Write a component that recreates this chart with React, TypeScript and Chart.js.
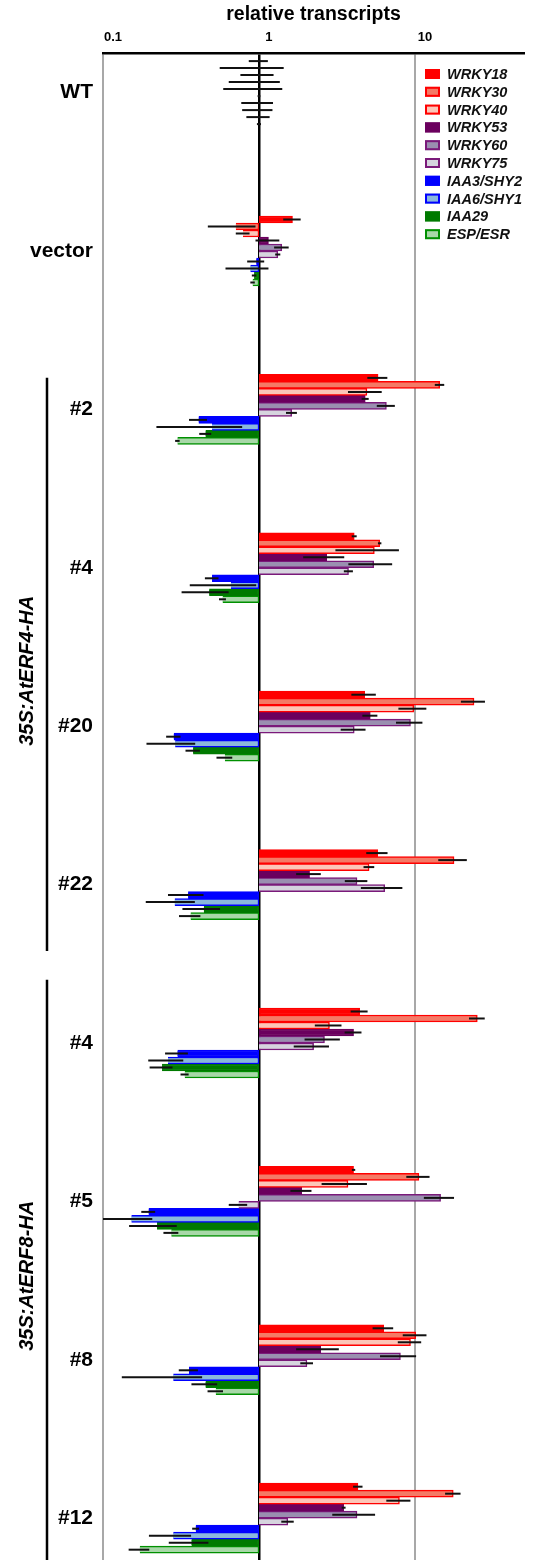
import { useEffect, useRef } from 'react';
import { Chart, registerables } from 'chart.js';

Chart.register(...registerables);

// ---------- data ----------
const groupLabels = ['WT', 'vector', '#2', '#4', '#20', '#22', '#4', '#5', '#8', '#12'];
const groupPositions = [0, 1, 2, 3, 4, 5, 6, 7, 8, 9];
const constructLabels = ['35S:AtERF4-HA', '35S:AtERF8-HA'];
const xTickValues = [0.1, 1, 10];

const geneNames = ['WRKY18', 'WRKY30', 'WRKY40', 'WRKY53', 'WRKY60', 'WRKY75', 'IAA3/SHY2', 'IAA6/SHY1', 'IAA29', 'ESP/ESR'];

const wrky18 = [1, 1.64, 5.8, 4.08, 4.76, 5.77, 4.42, 4.04, 6.3, 4.31];
const wrky30 = [1, 0.71, 14.4, 5.94, 23.9, 17.8, 25.1, 10.6, 10.1, 17.6];
const wrky40 = [1, 0.79, 4.92, 5.49, 9.83, 5.08, 2.83, 3.72, 9.36, 7.95];
const wrky53 = [1, 1.15, 4.8, 2.72, 5.17, 2.11, 4.04, 1.88, 2.49, 3.49];
const wrky60 = [1, 1.4, 6.56, 5.44, 9.36, 4.25, 2.63, 14.6, 8.07, 4.25];
const wrky75 = [1, 1.32, 1.62, 3.75, 4.08, 6.4, 2.24, 0.74, 2.03, 1.53];
const iaa3 = [1, 0.96, 0.41, 0.5, 0.284, 0.351, 0.3, 0.196, 0.356, 0.393];
const iaa6 = [1, 0.88, 0.5, 0.66, 0.29, 0.288, 0.261, 0.152, 0.282, 0.282];
const iaa29 = [1, 0.93, 0.454, 0.479, 0.378, 0.443, 0.239, 0.222, 0.454, 0.369];
const espEsr = [1, 0.91, 0.3, 0.584, 0.604, 0.364, 0.334, 0.274, 0.528, 0.172];

const wrky18Err = [0.14, 0.21, 0.85, 0.15, 0.85, 0.9, 0.55, 0.1, 0.95, 0.3];
const wrky30Err = [0.44, 0.24, 1.0, 0.15, 4.2, 3.7, 2.9, 1.8, 1.75, 2.0];
const wrky40Err = [0.24, 0.08, 1.2, 2.4, 2.0, 0.4, 0.55, 1.2, 1.6, 1.4];
const wrky53Err = [0.36, 0.2, 0.25, 0.8, 0.57, 0.38, 0.5, 0.29, 0.76, 0.1];
const wrky60Err = [0.41, 0.15, 0.87, 1.7, 1.8, 0.7, 0.67, 3.2, 2.1, 1.3];
const wrky75Err = [0.02, 0.05, 0.13, 0.25, 0.74, 1.9, 0.57, 0.1, 0.19, 0.14];
const iaa3Err = [0.23, 0.12, 0.054, 0.05, 0.03, 0.09, 0.05, 0.02, 0.05, 0.02];
const iaa6Err = [0.22, 0.27, 0.28, 0.3, 0.1, 0.1, 0.066, 0.055, 0.15, 0.085];
const iaa29Err = [0.17, 0.03, 0.04, 0.16, 0.04, 0.12, 0.04, 0.075, 0.085, 0.105];
const espEsrErr = [0.03, 0.03, 0.01, 0.03, 0.07, 0.057, 0.02, 0.03, 0.06, 0.026];

const geneValues = [wrky18, wrky30, wrky40, wrky53, wrky60, wrky75, iaa3, iaa6, iaa29, espEsr];
const geneErrors = [wrky18Err, wrky30Err, wrky40Err, wrky53Err, wrky60Err, wrky75Err, iaa3Err, iaa6Err, iaa29Err, espEsrErr];

// ---------- styles ----------
const fills = ['#ff0000', '#f47a66', '#fcc6b8', '#6b005e', '#9a8fb0', '#d6d4de', '#0000ff', '#8ab8dc', '#007a00', '#a8d8a8'];
const borders = ['#ff0000', '#ff0000', '#ff0000', '#6b005e', '#7a1a7a', '#7a1a7a', '#0000ff', '#0000ff', '#007a00', '#009000'];

const FONT = "'Liberation Sans', Arial, Helvetica, sans-serif";

const errorBarPlugin = {
  id: 'errorBars',
  afterDatasetsDraw(chart: any) {
    const { ctx, chartArea } = chart;
    const xs = chart.scales.x;
    ctx.save();
    ctx.strokeStyle = '#111';
    ctx.lineWidth = 2;
    chart.data.datasets.forEach((_ds: any, i: number) => {
      const meta = chart.getDatasetMeta(i);
      meta.data.forEach((bar: any, j: number) => {
        const v = geneValues[i][j];
        const e = geneErrors[i][j];
        let x1 = xs.getPixelForValue(Math.max(v - e, 0.001));
        let x2 = xs.getPixelForValue(v + e);
        x1 = Math.max(x1, chartArea.left);
        x2 = Math.min(x2, chartArea.right);
        ctx.beginPath();
        ctx.moveTo(x1, bar.y);
        ctx.lineTo(x2, bar.y);
        ctx.stroke();
      });
    });
    ctx.restore();
  },
};

const legendPlugin = {
  id: 'geneLegend',
  afterDraw(chart: any, _args: any, opts: any) {
    const { ctx } = chart;
    ctx.save();
    ctx.font = `italic bold ${opts.fontSize}px ${FONT}`;
    ctx.textBaseline = 'middle';
    ctx.textAlign = 'left';
    chart.data.datasets.forEach((ds: any, i: number) => {
      const y = opts.y + i * opts.rowHeight;
      ctx.fillStyle = ds.backgroundColor;
      ctx.fillRect(opts.x, y - 5, 15, 10);
      ctx.strokeStyle = ds.borderColor;
      ctx.lineWidth = 2;
      ctx.strokeRect(opts.x + 1, y - 4, 13, 8);
      ctx.fillStyle = '#111';
      ctx.fillText(ds.label, opts.x + 22, y + 1);
    });
    ctx.restore();
  },
};

const bracketPlugin = {
  id: 'constructBrackets',
  afterDraw(chart: any, _args: any, opts: any) {
    const { ctx } = chart;
    const ys = chart.scales.y;
    ctx.save();
    opts.spans.forEach((s: any, i: number) => {
      const y1 = ys.getPixelForValue(s.from);
      const y2 = Math.min(ys.getPixelForValue(s.to), chart.height);
      ctx.strokeStyle = '#000';
      ctx.lineWidth = 2.5;
      ctx.beginPath();
      ctx.moveTo(opts.lineX, y1);
      ctx.lineTo(opts.lineX, y2);
      ctx.stroke();
      const yc = ys.getPixelForValue(s.center);
      ctx.save();
      ctx.translate(opts.textX, yc);
      ctx.rotate(-Math.PI / 2);
      ctx.font = `italic bold 20px ${FONT}`;
      ctx.fillStyle = '#000';
      ctx.textAlign = 'center';
      ctx.textBaseline = 'middle';
      ctx.fillText(constructLabels[i], 0, 0);
      ctx.restore();
    });
    ctx.restore();
  },
};

export default function App() {
  const ref = useRef<HTMLCanvasElement>(null);
  useEffect(() => {
    Chart.defaults.font.family = FONT;
    const chart = new Chart(ref.current as HTMLCanvasElement, {
      type: 'bar',
      data: {
        datasets: geneNames.map((name, i) => ({
          label: name,
          data: geneValues[i].map((v, j) => ({ y: groupPositions[j], x: [1, v] })),
          backgroundColor: fills[i],
          borderColor: borders[i],
          borderWidth: 1.5,
          borderSkipped: 'start',
          barThickness: 7,
        })),
      } as any,
      options: {
        indexAxis: 'y',
        animation: false,
        responsive: false,
        maintainAspectRatio: false,
        layout: { padding: { left: 0, right: 9, top: 0, bottom: 0 } },
        scales: {
          x: {
            type: 'logarithmic',
            position: 'top',
            min: 0.1,
            max: 50,
            afterBuildTicks: (s: any) => {
              s.ticks = xTickValues.map((v) => ({ value: v }));
            },
            afterFit: (s: any) => {
              s.height = 53;
              s.paddingLeft = 0;
              s.paddingRight = 0;
            },
            ticks: {
              callback: (v: any) => String(v),
              font: { size: 13, weight: 'bold' },
              color: '#000',
              padding: 8,
              labelOffset: 10,
              maxRotation: 0,
              autoSkip: false,
            },
            grid: {
              color: (c: any) => (c.tick && c.tick.value === 1 ? '#000' : '#a8a8a8'),
              lineWidth: (c: any) => (c.tick && c.tick.value === 1 ? 2.5 : 2),
              drawTicks: false,
            },
            border: { display: true, color: '#000', width: 2.5 },
            title: {
              display: true,
              text: 'relative transcripts',
              font: { size: 19.5, weight: 'bold' },
              color: '#000',
              padding: { top: 3, bottom: 0 },
            },
          },
          y: {
            type: 'linear',
            reverse: true,
            min: -0.25,
            max: 9.264,
            offset: false,
            afterBuildTicks: (s: any) => {
              s.ticks = groupPositions.map((v) => ({ value: v }));
            },
            afterFit: (s: any) => {
              s.width = 103;
              s.paddingTop = 0;
              s.paddingBottom = 0;
            },
            ticks: {
              callback: (v: any) => groupLabels[v] ?? '',
              font: { size: 21, weight: 'bold' },
              color: '#000',
              padding: 10,
              autoSkip: false,
            },
            grid: { display: false, drawTicks: false },
            border: { display: false },
          },
        },
        plugins: {
          legend: { display: false },
          tooltip: { enabled: false },
          geneLegend: { x: 425, y: 74, rowHeight: 17.8, fontSize: 14.5 },
          constructBrackets: {
            lineX: 47,
            textX: 27,
            spans: [
              { from: 1.8, to: 5.42, center: 3.65 },
              { from: 5.6, to: 9.6, center: 7.47 },
            ],
          },
        } as any,
      },
      plugins: [errorBarPlugin, legendPlugin, bracketPlugin],
    });
    return () => chart.destroy();
  }, []);
  return (
    <div style={{ position: 'absolute', left: 0, top: 0, width: 533, height: 1560, background: '#fff' }}>
      <canvas ref={ref} width={533} height={1560} style={{ display: 'block', width: 533, height: 1560 }} />
    </div>
  );
}
